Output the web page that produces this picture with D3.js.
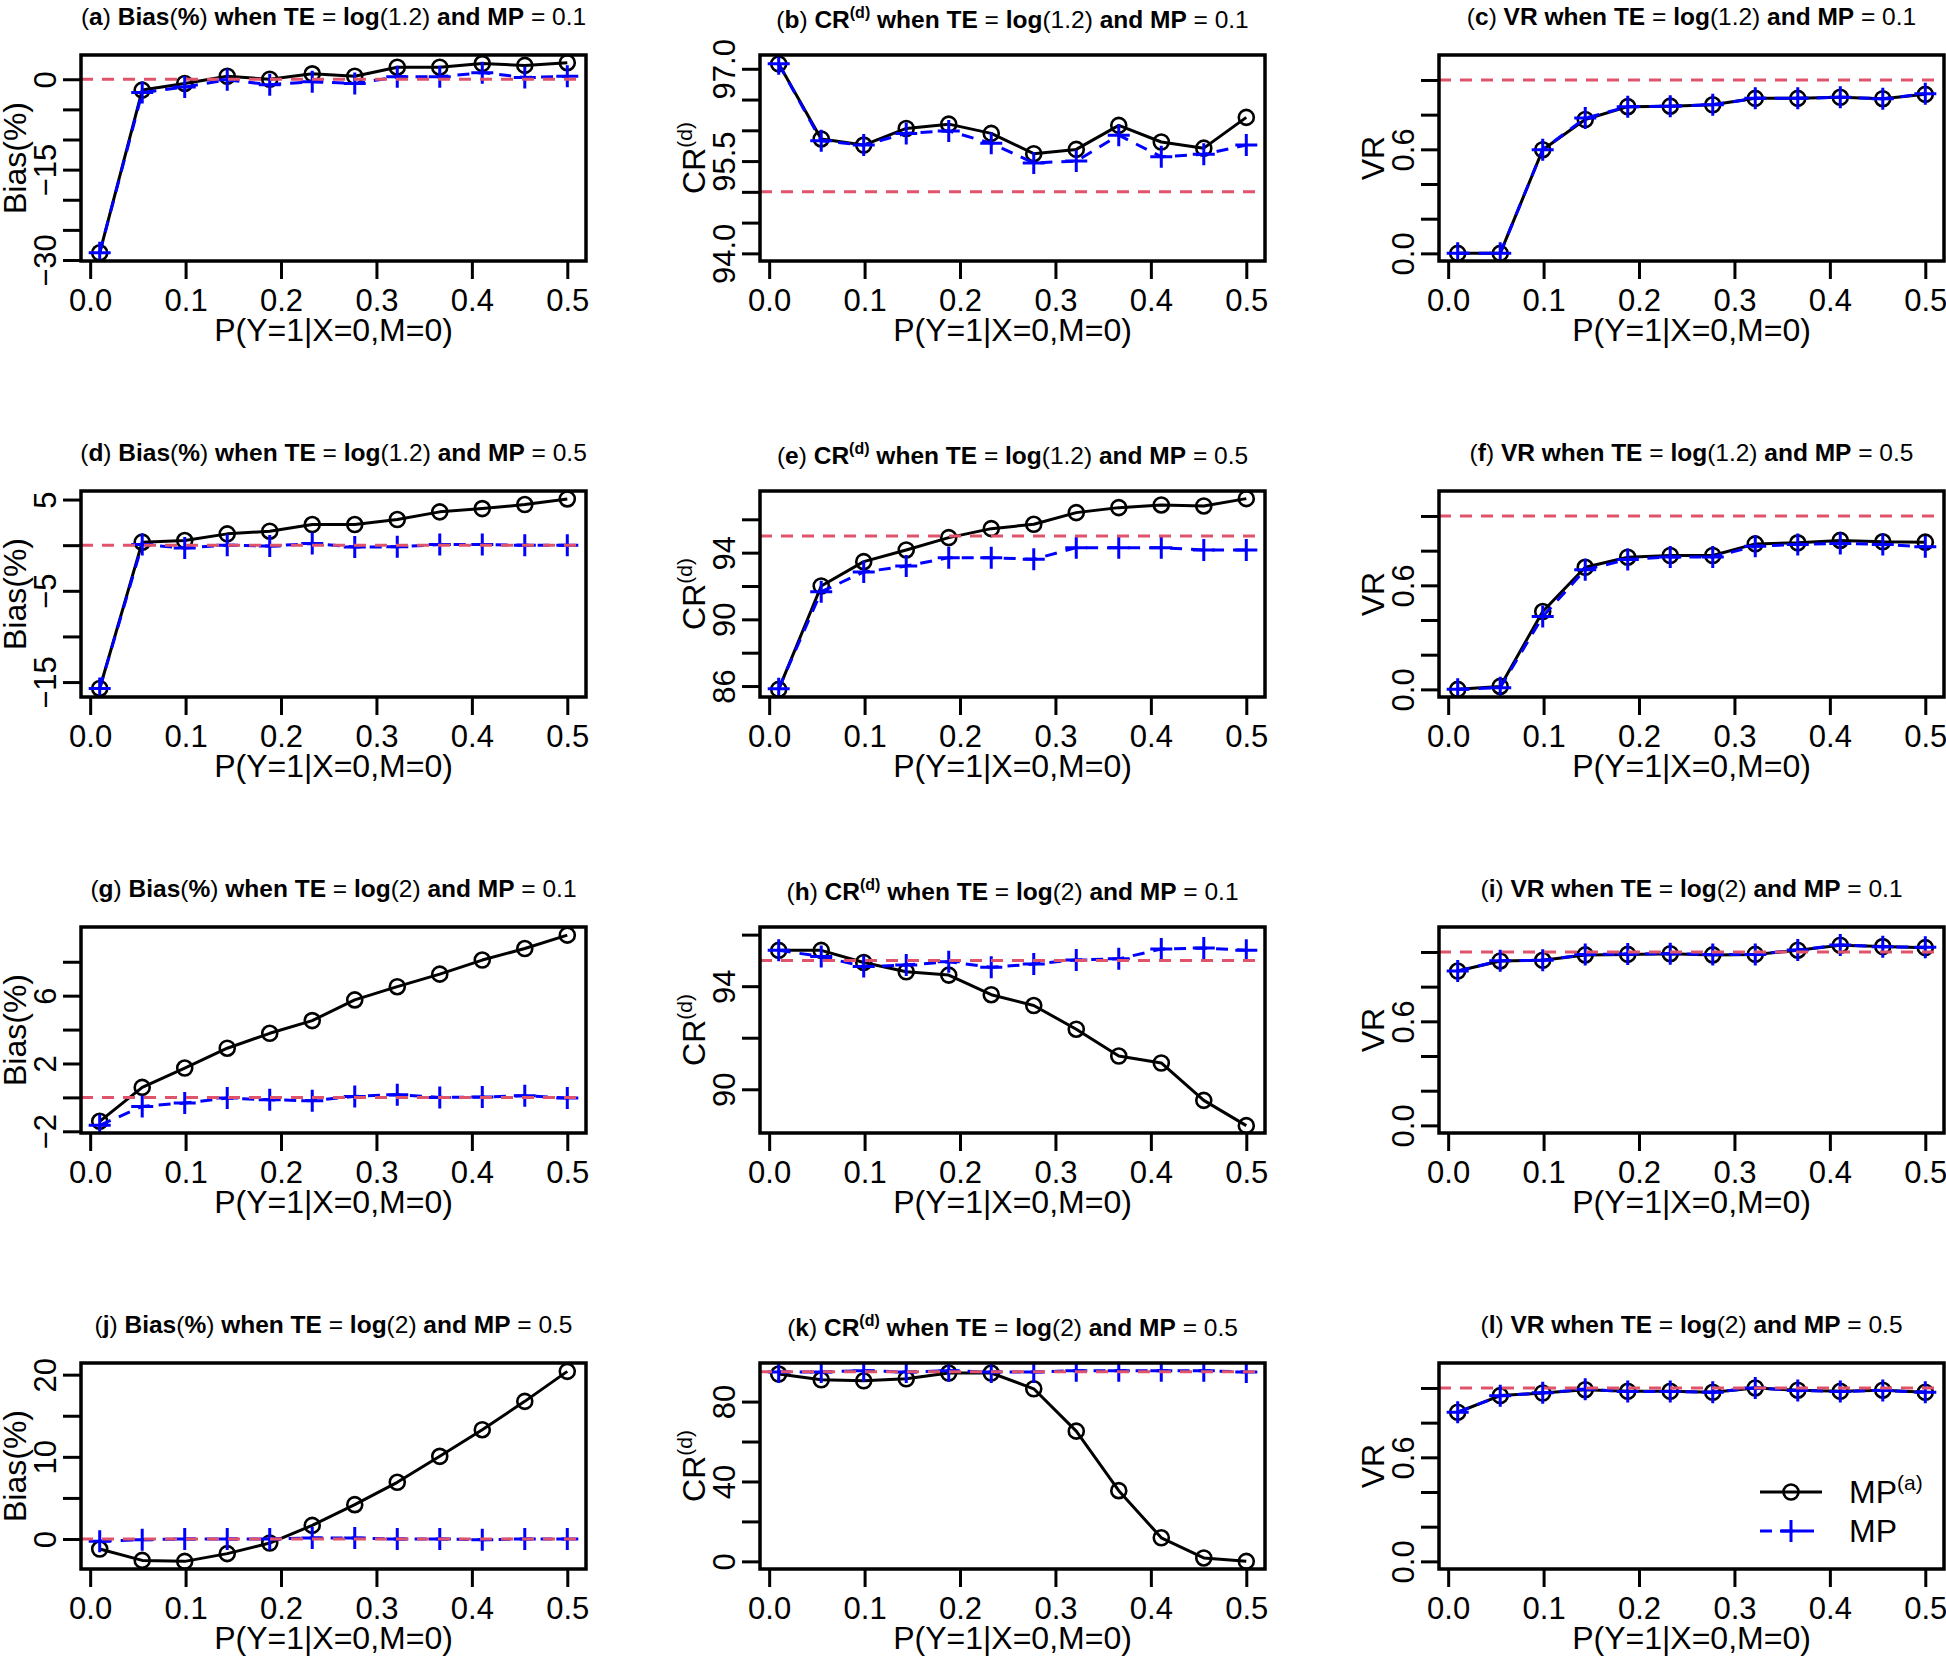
<!DOCTYPE html>
<html><head><meta charset="utf-8">
<script src="https://cdn.jsdelivr.net/npm/d3@7"></script>
<style>body{margin:0;background:#fff}svg{display:block}</style>
</head><body>
<svg id="chart" width="1946" height="1657"></svg>
<script>
// ---------------- data ----------------
const pValues = [0.01, 0.05455, 0.09909, 0.14364, 0.18818, 0.23273, 0.27727, 0.32182, 0.36636, 0.41091, 0.45545, 0.5];
const xTicks = [0, 0.1, 0.2, 0.3, 0.4, 0.5];
const xTickLabels = ["0.0", "0.1", "0.2", "0.3", "0.4", "0.5"];
const seriesNames = ["MP(a)", "MP"];

// (a) Bias, TE=log(1.2), MP=0.1
const biasA_MPa = [-28.8, -1.8, -0.7, 0.5, 0.0, 0.9, 0.5, 2.0, 2.0, 2.6, 2.3, 2.75];
const biasA_MP  = [-28.8, -2.2, -1.3, -0.1, -0.9, -0.4, -0.7, 0.4, 0.4, 1.1, 0.3, 0.5];
const ylimA = [-28.9, 2.76];
const yTicksA = [-30, -25, -20, -15, -10, -5, 0];
const yLabelsA = {"-30": "\u221230", "-15": "\u221215", "0": "0"};

// (b) CR, TE=log(1.2), MP=0.1
const crB_MPa = [97.08, 95.86, 95.76, 96.03, 96.10, 95.95, 95.62, 95.69, 96.08, 95.81, 95.71, 96.21];
const crB_MP  = [97.08, 95.83, 95.76, 95.95, 95.99, 95.79, 95.47, 95.50, 95.92, 95.57, 95.61, 95.76];
const ylimB = [94.0, 97.1];
const yTicksB = [94.0, 94.5, 95.0, 95.5, 96.0, 96.5, 97.0];
const yLabelsB = {"94": "94.0", "95.5": "95.5", "97": "97.0"};

// (c) VR, TE=log(1.2), MP=0.1
const vrC_MPa = [0.0, 0.0, 0.598, 0.772, 0.846, 0.849, 0.857, 0.894, 0.894, 0.900, 0.892, 0.917];
const vrC_MP  = [0.0, 0.0, 0.598, 0.780, 0.846, 0.849, 0.857, 0.894, 0.894, 0.900, 0.892, 0.920];

// (d) Bias, TE=log(1.2), MP=0.5
const biasD_MPa = [-15.7, 0.33, 0.51, 1.24, 1.53, 2.26, 2.26, 2.81, 3.65, 4.01, 4.45, 5.07];
const biasD_MP  = [-15.7, 0.07, -0.3, 0.0, -0.1, 0.18, -0.2, -0.18, 0.07, 0.07, 0.0, 0.0];
const ylimD = [-15.8, 5.1];
const yTicksD = [-15, -10, -5, 0, 5];
const yLabelsD = {"-15": "\u221215", "-5": "\u22125", "5": "5"};

// (e) CR, TE=log(1.2), MP=0.5
const crE_MPa = [85.8, 92.0, 93.46, 94.16, 94.9, 95.44, 95.7, 96.4, 96.7, 96.86, 96.8, 97.24];
const crE_MP  = [85.84, 91.66, 92.84, 93.2, 93.7, 93.7, 93.6, 94.3, 94.3, 94.3, 94.16, 94.16];
const ylimE = [85.8, 97.24];
const yTicksE = [86, 88, 90, 92, 94, 96];
const yLabelsE = {"86": "86", "90": "90", "94": "94"};

// (f) VR, TE=log(1.2), MP=0.5
const vrF_MPa = [0.0, 0.017, 0.449, 0.704, 0.762, 0.772, 0.772, 0.839, 0.845, 0.859, 0.851, 0.849];
const vrF_MP  = [0.0, 0.010, 0.420, 0.690, 0.749, 0.764, 0.764, 0.826, 0.836, 0.841, 0.836, 0.822];

// (g) Bias, TE=log(2), MP=0.1
const biasG_MPa = [-1.41, 0.59, 1.73, 2.9, 3.78, 4.53, 5.75, 6.53, 7.27, 8.1, 8.78, 9.57];
const biasG_MP  = [-1.65, -0.53, -0.33, -0.04, -0.14, -0.2, 0.06, 0.16, 0.0, 0.02, 0.1, -0.04];
const ylimG = [-1.65, 9.6];
const yTicksG = [-2, 0, 2, 4, 6, 8];
const yLabelsG = {"-2": "\u22122", "2": "2", "6": "6"};

// (h) CR, TE=log(2), MP=0.1
const crH_MPa = [95.39, 95.39, 94.92, 94.56, 94.43, 93.67, 93.25, 92.33, 91.29, 91.02, 89.57, 88.59];
const crH_MP  = [95.39, 95.15, 94.76, 94.82, 94.95, 94.73, 94.86, 95.02, 95.06, 95.44, 95.48, 95.39];
const ylimH = [88.6, 96.0];
const yTicksH = [90, 92, 94, 96];
const yLabelsH = {"90": "90", "94": "94"};

// (i) VR, TE=log(2), MP=0.1
const vrI_MPa = [0.890, 0.948, 0.952, 0.983, 0.986, 0.990, 0.983, 0.986, 1.010, 1.039, 1.031, 1.025];
const vrI_MP  = [0.890, 0.950, 0.952, 0.985, 0.988, 0.990, 0.985, 0.986, 1.012, 1.040, 1.030, 1.027];

// (j) Bias, TE=log(2), MP=0.5
const biasJ_MPa = [-1.22, -2.6, -2.72, -1.78, -0.49, 1.66, 4.18, 6.9, 10.06, 13.3, 16.75, 20.4];
const biasJ_MP  = [-0.28, -0.08, 0.0, 0.0, 0.0, 0.12, 0.12, 0.0, 0.0, -0.08, 0.0, 0.0];
const ylimJ = [-2.72, 20.49];
const yTicksJ = [0, 5, 10, 15, 20];
const yLabelsJ = {"0": "0", "10": "10", "20": "20"};

// (k) CR, TE=log(2), MP=0.5
const crK_MPa = [93.8, 90.9, 90.4, 91.4, 94.3, 94.3, 86.4, 65.2, 35.4, 11.8, 1.7, 0.0];
const crK_MP  = [94.8, 94.8, 95.5, 94.8, 95.5, 94.8, 94.8, 95.5, 95.5, 95.5, 95.5, 94.8];
const ylimK = [0, 95.5];
const yTicksK = [0, 20, 40, 60, 80];
const yLabelsK = {"0": "0", "40": "40", "80": "80"};

// (l) VR, TE=log(2), MP=0.5
const vrL_MPa = [0.860, 0.956, 0.971, 0.990, 0.981, 0.981, 0.975, 1.000, 0.987, 0.981, 0.987, 0.975];
const vrL_MP  = [0.860, 0.955, 0.972, 0.992, 0.980, 0.980, 0.976, 1.000, 0.985, 0.980, 0.986, 0.976];

// VR axis shared
const ylimVR = [0, 1.1];
const yTicksVR = [0, 0.2, 0.4, 0.6, 0.8, 1.0];
const yLabelsVR = {"0": "0.0", "0.6": "0.6"};

// reference lines
const refBias = 0, refCR = 95, refVR = 1;

// ---------------- panel table ----------------
const panels = [
  {id: "a", metric: "Bias", te: "1.2", mp: "0.1", s1: biasA_MPa, s2: biasA_MP, ylim: ylimA, ticks: yTicksA, labels: yLabelsA, ref: refBias},
  {id: "b", metric: "CR",   te: "1.2", mp: "0.1", s1: crB_MPa,   s2: crB_MP,   ylim: ylimB, ticks: yTicksB, labels: yLabelsB, ref: refCR},
  {id: "c", metric: "VR",   te: "1.2", mp: "0.1", s1: vrC_MPa,   s2: vrC_MP,   ylim: ylimVR, ticks: yTicksVR, labels: yLabelsVR, ref: refVR},
  {id: "d", metric: "Bias", te: "1.2", mp: "0.5", s1: biasD_MPa, s2: biasD_MP, ylim: ylimD, ticks: yTicksD, labels: yLabelsD, ref: refBias},
  {id: "e", metric: "CR",   te: "1.2", mp: "0.5", s1: crE_MPa,   s2: crE_MP,   ylim: ylimE, ticks: yTicksE, labels: yLabelsE, ref: refCR},
  {id: "f", metric: "VR",   te: "1.2", mp: "0.5", s1: vrF_MPa,   s2: vrF_MP,   ylim: ylimVR, ticks: yTicksVR, labels: yLabelsVR, ref: refVR},
  {id: "g", metric: "Bias", te: "2",   mp: "0.1", s1: biasG_MPa, s2: biasG_MP, ylim: ylimG, ticks: yTicksG, labels: yLabelsG, ref: refBias},
  {id: "h", metric: "CR",   te: "2",   mp: "0.1", s1: crH_MPa,   s2: crH_MP,   ylim: ylimH, ticks: yTicksH, labels: yLabelsH, ref: refCR},
  {id: "i", metric: "VR",   te: "2",   mp: "0.1", s1: vrI_MPa,   s2: vrI_MP,   ylim: ylimVR, ticks: yTicksVR, labels: yLabelsVR, ref: refVR},
  {id: "j", metric: "Bias", te: "2",   mp: "0.5", s1: biasJ_MPa, s2: biasJ_MP, ylim: ylimJ, ticks: yTicksJ, labels: yLabelsJ, ref: refBias},
  {id: "k", metric: "CR",   te: "2",   mp: "0.5", s1: crK_MPa,   s2: crK_MP,   ylim: ylimK, ticks: yTicksK, labels: yLabelsK, ref: refCR},
  {id: "l", metric: "VR",   te: "2",   mp: "0.5", s1: vrL_MPa,   s2: vrL_MP,   ylim: ylimVR, ticks: yTicksVR, labels: yLabelsVR, ref: refVR}
];

// ---------------- layout & style ----------------
const FONT = "'Liberation Sans', Arial, Helvetica, sans-serif";
const colLeft = [81, 760, 1439];
const rowTop = [55, 491, 927, 1363];
const boxW = 505, boxH = 206;
const tickLen = 18;
const axisFont = 31, labFont = 32, titleFont = 24.5, supFont = 21;
const RED = "#DF536B", BLUE = "#0000FF";
const LW = 3;

const svg = d3.select("#chart").style("font-family", FONT);
svg.append("rect").attr("width", 1946).attr("height", 1657).attr("fill", "#fff");

function circleMarks(sel, pts) {
  sel.selectAll(null).data(pts).enter().append("circle")
    .attr("cx", d => d[0]).attr("cy", d => d[1]).attr("r", 7.5)
    .attr("fill", "none").attr("stroke", "#000").attr("stroke-width", 2.6);
}
function plusMarks(sel, pts, color) {
  const a = 11;
  sel.selectAll(null).data(pts).enter().append("path")
    .attr("d", d => `M${d[0]-a},${d[1]}H${d[0]+a}M${d[0]},${d[1]-a}V${d[1]+a}`)
    .attr("stroke", color).attr("stroke-width", 3).attr("fill", "none");
}

function addTitle(g, p) {
  const t = g.append("text")
    .attr("x", boxW / 2).attr("y", p.metric === "CR" ? -27 : -30)
    .attr("text-anchor", "middle").attr("font-size", titleFont).attr("fill", "#000")
    .style("white-space", "pre");
  const parts = [["(", 400], [p.id, 700], [")", 400], [" ", 700]];
  if (p.metric === "Bias") parts.push(["Bias", 700], ["(", 400], ["%", 700], [")", 400]);
  if (p.metric === "CR") parts.push(["CR", 700], ["(d)", 700, "sup"]);
  if (p.metric === "VR") parts.push(["VR", 700]);
  parts.push([" when TE", 700], [" = ", 400], ["log", 700], ["(" + p.te + ")", 400], [" and MP", 700], [" = " + p.mp, 400]);
  let raised = false;
  parts.forEach(([txt, w, kind]) => {
    const ts = t.append("tspan").attr("font-weight", w).text(txt);
    if (kind === "sup") { ts.attr("font-size", 16).attr("dy", -10); raised = true; }
    else if (raised) { ts.attr("dy", 10); raised = false; }
  });
}

panels.forEach((p, i) => {
  const col = i % 3, row = Math.floor(i / 3);
  const g = svg.append("g").attr("transform", `translate(${colLeft[col]},${rowTop[row]})`);

  const xr = d3.extent(pValues);
  const xpad = (xr[1] - xr[0]) * 0.04;
  const x = d3.scaleLinear().domain([xr[0] - xpad, xr[1] + xpad]).range([0, boxW]);
  const ypad = (p.ylim[1] - p.ylim[0]) * 0.04;
  const y = d3.scaleLinear().domain([p.ylim[0] - ypad, p.ylim[1] + ypad]).range([boxH, 0]);

  const clipId = "clip" + p.id;
  g.append("clipPath").attr("id", clipId).append("rect")
    .attr("x", 0).attr("y", 0).attr("width", boxW).attr("height", boxH);

  // x axis
  const xa = g.append("g").attr("transform", `translate(0,${boxH})`)
    .call(d3.axisBottom(x).tickValues(xTicks).tickFormat((d, k) => xTickLabels[k])
      .tickSizeInner(tickLen).tickSizeOuter(0));
  xa.select(".domain").remove();
  xa.selectAll(".tick line").attr("stroke", "#000").attr("stroke-width", LW);
  xa.selectAll(".tick text").attr("y", 50).attr("dy", 0)
    .attr("font-size", axisFont).attr("font-family", FONT).attr("fill", "#000");

  // y axis (ticks every step, labels only where R keeps them)
  const ya = g.append("g")
    .call(d3.axisLeft(y).tickValues(p.ticks).tickFormat(d => p.labels[String(d)] || "")
      .tickSizeInner(tickLen).tickSizeOuter(0));
  ya.select(".domain").remove();
  ya.selectAll(".tick line").attr("stroke", "#000").attr("stroke-width", LW);
  ya.selectAll(".tick text").filter(d => !p.labels[String(d)]).remove();
  ya.selectAll(".tick text").attr("x", 0).attr("y", -25).attr("dy", 0)
    .attr("text-anchor", "middle").attr("transform", "rotate(-90)")
    .attr("font-size", axisFont).attr("font-family", FONT).attr("fill", "#000");

  // axis titles
  g.append("text").attr("x", boxW / 2).attr("y", boxH + 80).attr("text-anchor", "middle")
    .attr("font-size", labFont).text("P(Y=1|X=0,M=0)");
  const yt = g.append("text").attr("transform", `translate(-55,${boxH / 2}) rotate(-90)`)
    .attr("text-anchor", "middle").attr("font-size", labFont);
  if (p.metric === "Bias") yt.text("Bias(%)");
  if (p.metric === "VR") yt.text("VR");
  if (p.metric === "CR") {
    yt.append("tspan").text("CR");
    yt.append("tspan").attr("font-size", supFont).attr("dy", -13).text("(d)");
  }

  addTitle(g, p);

  // plot content
  const inner = g.append("g").attr("clip-path", `url(#${clipId})`);
  const line = d3.line().x(d => x(d[0])).y(d => y(d[1]));
  const d1 = pValues.map((v, k) => [v, p.s1[k]]);
  const d2 = pValues.map((v, k) => [v, p.s2[k]]);

  inner.append("path").attr("d", line(d1)).attr("fill", "none")
    .attr("stroke", "#000").attr("stroke-width", LW).attr("stroke-linejoin", "round");
  circleMarks(inner, d1.map(d => [x(d[0]), y(d[1])]));

  inner.append("path").attr("d", line(d2)).attr("fill", "none")
    .attr("stroke", BLUE).attr("stroke-width", LW).attr("stroke-dasharray", "12,9");
  plusMarks(inner, d2.map(d => [x(d[0]), y(d[1])]), BLUE);

  inner.append("line").attr("x1", 0).attr("x2", boxW)
    .attr("y1", y(p.ref)).attr("y2", y(p.ref))
    .attr("stroke", RED).attr("stroke-width", LW).attr("stroke-dasharray", "12,9");

  // box
  g.append("rect").attr("x", 0).attr("y", 0).attr("width", boxW).attr("height", boxH)
    .attr("fill", "none").attr("stroke", "#000").attr("stroke-width", 3.5);

  // legend in last panel
  if (i === panels.length - 1) {
    const lg = g.append("g");
    const lx1 = 321, lx2 = 383, lxm = (lx1 + lx2) / 2, tx = 410;
    const ly = [129, 168];
    lg.append("line").attr("x1", lx1).attr("x2", lx2).attr("y1", ly[0]).attr("y2", ly[0])
      .attr("stroke", "#000").attr("stroke-width", LW);
    circleMarks(lg, [[lxm, ly[0]]]);
    lg.append("line").attr("x1", lx1).attr("x2", lx2).attr("y1", ly[1]).attr("y2", ly[1])
      .attr("stroke", BLUE).attr("stroke-width", LW).attr("stroke-dasharray", "12,9");
    plusMarks(lg, [[lxm, ly[1]]], BLUE);
    const t1 = lg.append("text").attr("x", tx).attr("y", ly[0] + 11).attr("font-size", labFont);
    t1.append("tspan").text("MP");
    t1.append("tspan").attr("font-size", supFont).attr("dy", -13).text("(a)");
    lg.append("text").attr("x", tx).attr("y", ly[1] + 11).attr("font-size", labFont).text(seriesNames[1]);
  }
});
</script>
</body></html>
